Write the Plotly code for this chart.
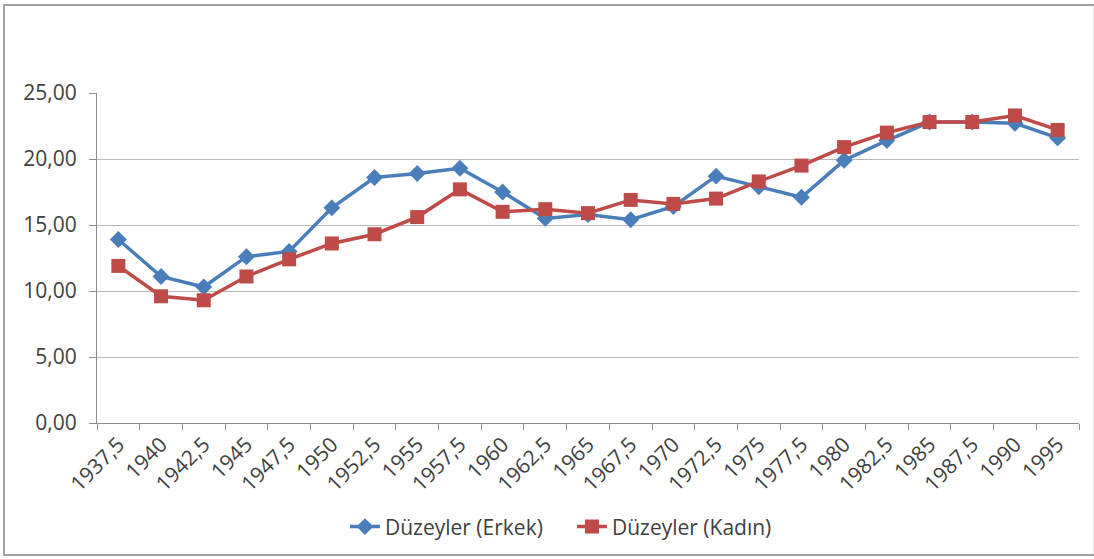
import plotly.graph_objects as go

# Period labels (category axis)
periods = ["1937,5", "1940", "1942,5", "1945", "1947,5", "1950", "1952,5", "1955",
           "1957,5", "1960", "1962,5", "1965", "1967,5", "1970", "1972,5", "1975",
           "1977,5", "1980", "1982,5", "1985", "1987,5", "1990", "1995"]

# Levels by sex
erkek = [13.9, 11.1, 10.3, 12.6, 13.0, 16.3, 18.6, 18.9, 19.3, 17.5, 15.5, 15.8,
         15.4, 16.4, 18.7, 17.9, 17.1, 19.9, 21.4, 22.8, 22.8, 22.7, 21.6]
kadin = [11.9, 9.6, 9.3, 11.1, 12.4, 13.6, 14.3, 15.6, 17.7, 16.0, 16.2, 15.9,
         16.9, 16.6, 17.0, 18.3, 19.5, 20.9, 22.0, 22.8, 22.8, 23.3, 22.2]

y_ticks = [0, 5, 10, 15, 20, 25]

BLUE = "#4A7EBB"
RED = "#BE4B48"
TEXT = "#404040"
FONT = "Open Sans"

fig = go.Figure()
fig.add_trace(go.Scatter(
    x=periods, y=erkek, name="Düzeyler (Erkek)", mode="lines+markers",
    line=dict(color=BLUE, width=3.5),
    marker=dict(symbol="diamond", size=13, color=BLUE),
))
fig.add_trace(go.Scatter(
    x=periods, y=kadin, name="Düzeyler (Kadın)", mode="lines+markers",
    line=dict(color=RED, width=3.5),
    marker=dict(symbol="square", size=14, color=RED),
))

# Outer frame around the whole chart
fig.add_shape(type="rect", xref="paper", yref="paper",
              x0=-0.0947, x1=1.016, y0=-0.40, y1=1.267,
              line=dict(color="#a0a0a0", width=2), layer="below")

fig.update_layout(
    width=1094, height=559,
    margin=dict(l=97, r=15, t=93, b=136),
    paper_bgcolor="white", plot_bgcolor="white",
    separators=",.",
    font=dict(family=FONT, size=20, color=TEXT),
    showlegend=True,
    legend=dict(orientation="h", x=0.2525, xanchor="left", y=-0.315, yanchor="middle",
                font=dict(family=FONT, size=21, color=TEXT),
                entrywidth=182, entrywidthmode="pixels",
                traceorder="normal"),
)
fig.update_xaxes(
    type="category", tickson="boundaries", ticks="outside", ticklen=6,
    tickcolor="#8c8c8c", showline=True, linecolor="#8c8c8c", linewidth=1,
    showgrid=False, tickangle=-45, tickfont=dict(size=21, color=TEXT),
    range=[-0.5, len(periods) - 0.5],
)
fig.update_yaxes(
    range=[0, 25], tickvals=y_ticks, tickformat=".2f",
    showgrid=True, gridcolor="#b8b8b8", gridwidth=1,
    showline=True, linecolor="#8c8c8c", linewidth=1,
    ticks="outside", ticklen=7, tickcolor="#8c8c8c",
    ticklabelstandoff=8,
    tickfont=dict(size=21, color=TEXT), zeroline=False,
)

fig.write_html("out.html")
